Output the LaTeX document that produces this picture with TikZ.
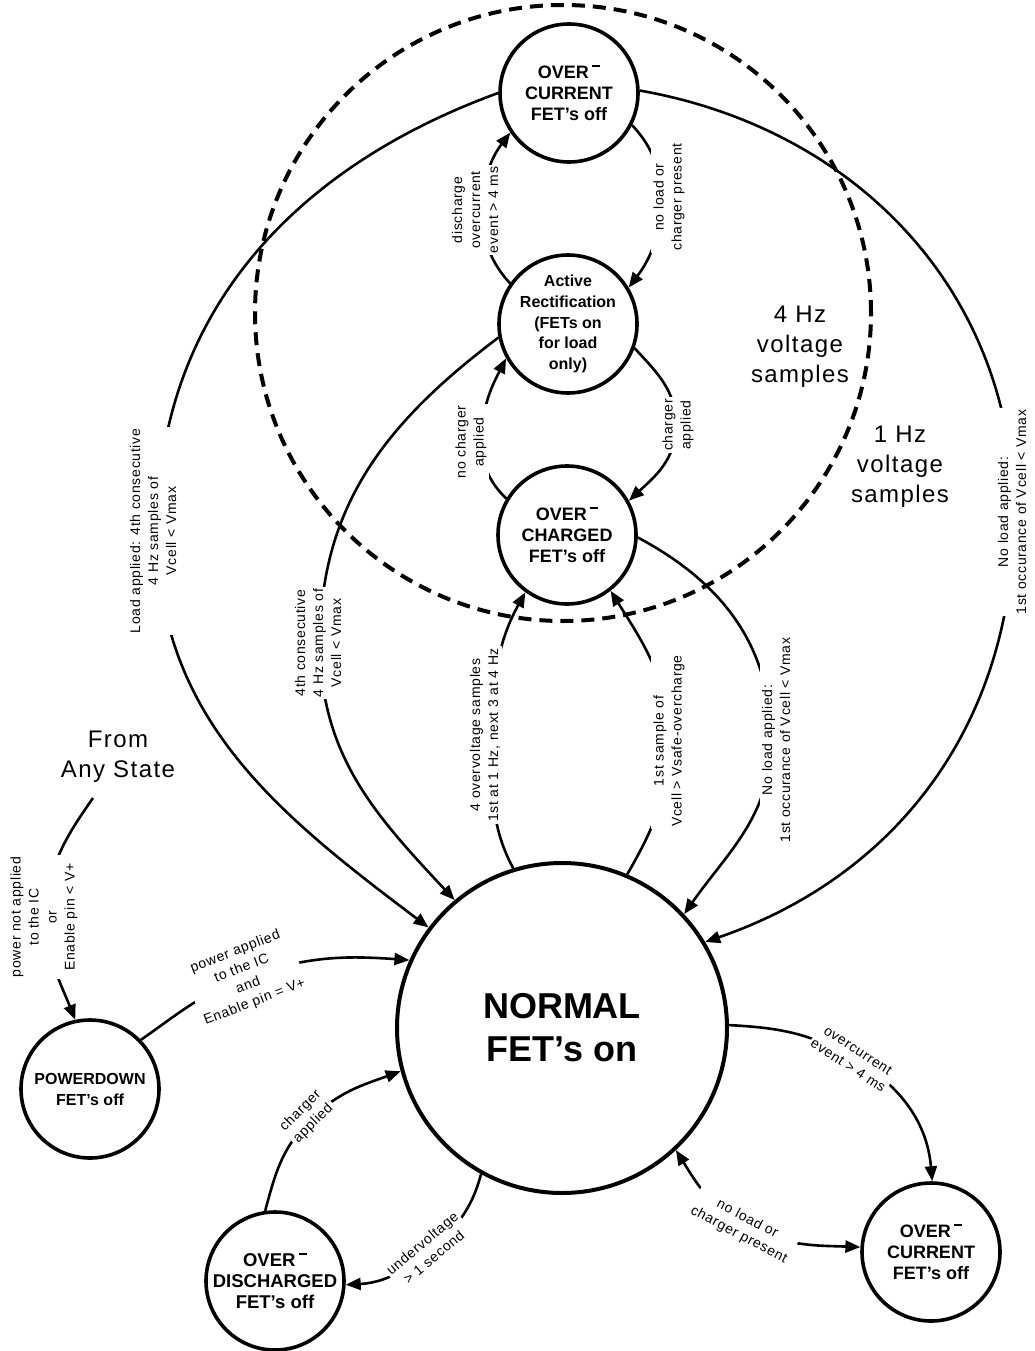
\documentclass[tikz,border=0pt]{standalone}
\usepackage{fontspec}
\setmainfont{Liberation Sans}
\newfontfamily\lblfont{Liberation Sans}[LetterSpace=5.0]
\newfontfamily\bigfont{Liberation Sans}[LetterSpace=6.0]
\usetikzlibrary{arrows.meta}
\newcommand{\ovdash}{\,\raisebox{.64em}{\rule{.45em}{.09em}}}
\begin{document}
\begin{tikzpicture}[x=1pt,y=1pt,
  state/.style={circle, draw, fill=white, line width=3.6pt, inner sep=0pt, minimum size=138pt},
  stxt/.style={align=center, inner sep=0pt, font=\bfseries\fontsize{18}{21}\selectfont},
  conn/.style={line width=2.6pt},
  arr/.style={conn, -{Triangle[length=15pt,width=12pt]}},
  darr/.style={conn, {Triangle[length=15pt,width=12pt]}-{Triangle[length=15pt,width=12pt]}},
  lbl/.style={fill=white, inner sep=2pt, align=center, font=\lblfont\fontsize{14}{18}\selectfont},
  big/.style={align=center, font=\bigfont\fontsize{24}{30}\selectfont}]
\useasboundingbox (0,0) rectangle (1034,-1351);

% dashed region
\draw[line width=4pt, dash pattern=on 13pt off 8pt] (563,-313) circle[radius=308];

% states
\node[state] (oc1) at (569,-93) {};
\node[stxt] (oc1t) at (oc1) {OVER\ovdash\\CURRENT\\FET's off};
\node[state] (act) at (568,-324) {};
\node[stxt, font=\bfseries\fontsize{16}{20.7}\selectfont] (actt) at (act) {Active\\Rectification\\(FETs on\\for load\\only)};
\node[state] (och) at (567,-535) {};
\node[stxt] (ocht) at (och) {OVER\ovdash\\CHARGED\\FET's off};
\node[state, minimum size=330pt, line width=4pt] (nor) at (562,-1028) {};
\node[stxt, font=\bfseries\fontsize{36}{43}\selectfont] (nort) at (nor) {NORMAL\\FET's on};
\node[state] (pd) at (90,-1089) {};
\node[stxt, font=\bfseries\fontsize{16}{21}\selectfont] (pdt) at (pd) {POWERDOWN\\FET's off};
\node[state] (od) at (275,-1281) {};
\node[stxt, font=\bfseries\fontsize{18.5}{21}\selectfont] (odt) at (od) {OVER\ovdash\\DISCHARGED\\FET's off};
\node[state] (oc2) at (931,-1252) {};
\node[stxt] (oc2t) at (oc2) {OVER\ovdash\\CURRENT\\FET's off};

\node[big] (fas) at (118,-757) {From\\Any State};
\node[big] (hz4) at (800,-347) {4 Hz\\voltage\\samples};
\node[big] (hz1) at (900,-467) {1 Hz\\voltage\\samples};

% way points
\coordinate (m1) at (157,-531);
\coordinate (m2) at (1014,-515);
\coordinate (m3) at (320,-643);
\coordinate (m4) at (493,-735);
\coordinate (m5) at (668,-741);
\coordinate (m6) at (771,-740);
\coordinate (m7) at (483,-210);
\coordinate (m8) at (660,-200);
\coordinate (m9) at (482,-440);
\coordinate (m10) at (676,-425);
\coordinate (s11) at (93,-798);
\coordinate (m11) at (47,-917);
\coordinate (m12) at (245,-978);
\coordinate (m13) at (310,-1120);
\coordinate (m14) at (428,-1252);
\coordinate (m15) at (853,-1058);
\coordinate (m16) at (745,-1225);

% connectors
\draw[arr] (oc1.180) to[out=200,in=90] (m1) to[out=-90,in=143] (nor.143);
\draw[arr] (oc1.2) to[out=-10,in=90] (m2) to[out=-90,in=19] (nor.31);
\draw[arr] (act.191) to[out=217,in=90] (m3) to[out=-90,in=133] (nor.130);
\draw[arr] (nor.107.6) to[out=118,in=-90] (m4) to[out=90,in=-119] (och.234);
\draw[arr] (nor.67) to[out=60,in=-90] (m5) to[out=90,in=-58] (och.-52);
\draw[arr] (och.-2) to[out=-28,in=90] (m6) to[out=-90,in=55] (nor.43);
\draw[arr] (act.145) to[out=132,in=-90] (m7) to[out=90,in=233] (oc1.214);
\draw[arr] (oc1.-27) to[out=-47,in=90] (m8) to[out=-90,in=53] (act.31);
\draw[arr] (och.149) to[out=136,in=-90] (m9) to[out=90,in=243] (act.209);
\draw[arr] (act.-20) to[out=-47,in=90] (m10) to[out=-90,in=43] (och.29);
\draw[arr] (s11) to[out=-125,in=90] (m11) to[out=-90,in=112] (pd.102);
\draw[arr] (pd.44) to[out=35,in=200] (m12) to[out=20,in=176] (nor.156);
\draw[arr] (od.98) to[out=75,in=225] (m13) to[out=45,in=200] (nor.195);
\draw[arr] (nor.241) to[out=-105,in=40] (m14) to[out=220,in=3] (od.357);
\draw[arr] (nor.1) to[out=-3,in=150] (m15) to[out=-30,in=95] (oc2.89);
\draw[darr] (nor.-47.7) to[out=-58,in=152] (m16) to[out=-28,in=178] (oc2.176);

% labels
\node[lbl, rotate=90] (t1) at (153,-531) {Load applied: 4th consecutive\\4 Hz samples of\\Vcell < Vmax};
\node[lbl, rotate=90] (t2) at (1012,-512) {No load applied:\\1st occurance of Vcell < Vmax};
\node[lbl, rotate=90] (t3) at (318,-643) {4th consecutive\\4 Hz samples of\\Vcell < Vmax};
\node[lbl, rotate=90] (t4) at (485,-735) {4 overvoltage samples\\1st at 1 Hz, next 3 at 4 Hz};
\node[lbl, rotate=90] (t5) at (669,-741) {1st sample of\\Vcell > Vsafe-overcharge};
\node[lbl, rotate=90] (t6) at (776,-740) {No load applied:\\1st occurance of Vcell < Vmax};
\node[lbl, rotate=90] (t7) at (475,-210) {discharge\\overcurrent\\event > 4 ms};
\node[lbl, rotate=90] (t8) at (669,-197) {no load or\\charger present};
\node[lbl, rotate=90] (t9) at (471,-442) {no charger\\applied};
\node[lbl, rotate=90] (t10) at (678,-425) {charger\\applied};
\node[lbl, rotate=90] (t11) at (44,-917) {power not applied\\to the IC\\or\\Enable pin < V+};
\node[lbl, rotate=21] (t12) at (245,-977) {power applied\\to the IC\\and\\Enable pin = V+};
\node[lbl, rotate=45] (t13) at (307,-1117) {charger\\applied};
\node[lbl, rotate=40] (t14) at (428,-1250) {undervoltage\\> 1 second};
\node[lbl, rotate=-33] (t15) at (853,-1058) {overcurrent\\event > 4 ms};
\node[lbl, rotate=-28] (t16) at (743,-1227) {no load or\\charger present};
\end{tikzpicture}
\end{document}
